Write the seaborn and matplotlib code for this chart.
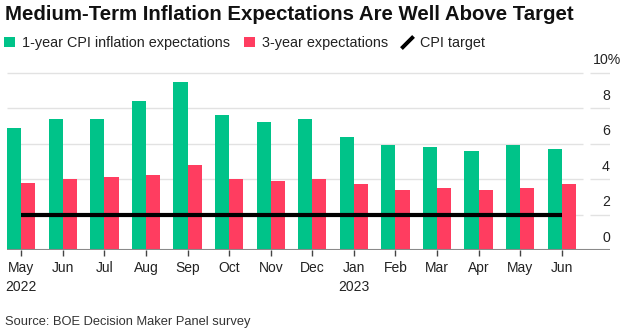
import matplotlib
matplotlib.use("Agg")
import matplotlib.pyplot as plt
import matplotlib.transforms as mtransforms
import seaborn as sns
import pandas as pd
import numpy as np
from matplotlib.lines import Line2D
from matplotlib.patches import Patch

months = ["May\n2022", "Jun", "Jul", "Aug", "Sep", "Oct", "Nov", "Dec",
          "Jan\n2023", "Feb", "Mar", "Apr", "May", "Jun"]
one_year = [6.9, 7.4, 7.4, 8.4, 9.5, 7.6, 7.2, 7.4, 6.4, 5.9, 5.8, 5.6, 5.9, 5.7]
three_year = [3.8, 4.0, 4.1, 4.25, 4.8, 4.0, 3.9, 4.0, 3.7, 3.4, 3.5, 3.4, 3.5, 3.7]
cpi_target = [2.0] * len(months)
y_ticks = [0, 2, 4, 6, 8, 10]

s1 = "1-year CPI inflation expectations"
s2 = "3-year expectations"
green = "#00c389"
red = "#ff3d60"

df = pd.DataFrame({
    "month": list(range(len(months))) * 2,
    "value": one_year + three_year,
    "series": [s1] * len(months) + [s2] * len(months),
})

sns.set_theme(style="white")
plt.rcParams["font.family"] = ["Liberation Sans", "DejaVu Sans"]

fig = plt.figure(figsize=(6.26, 3.33), dpi=100)
ax = fig.add_axes([7 / 626, 83 / 333, 603 / 626, 190 / 333])

sns.barplot(data=df, x="month", y="value", hue="series", palette=[green, red],
            width=0.68, ax=ax, legend=False, edgecolor="none", saturation=1,
            order=list(range(len(months))), zorder=2)

xs = np.arange(len(months))
ax.plot(xs, cpi_target, color="black", lw=3.0, solid_capstyle="butt", zorder=4)

xl, xr = -0.345, 14.16
ax.set_xlim(xl, xr)
ax.set_ylim(0, 10.72)

for v in y_ticks:
    if v == 0:
        continue
    ax.hlines(v, xl, 13.51, color="#e2e2e2", lw=1.0, zorder=1)
    ax.hlines(v, 13.68, xr, color="#e2e2e2", lw=1.0, zorder=1)
ax.axhline(0, color="#8a8a8a", lw=1.5, zorder=5)

trans = mtransforms.blended_transform_factory(ax.transAxes, ax.transData)
for v in y_ticks:
    label = f"{v}%" if v == y_ticks[-1] else str(v)
    dx = 11.5 / 100 if v == y_ticks[-1] else 0
    off = mtransforms.ScaledTranslation(dx, 12.5 / 100, fig.dpi_scale_trans)
    ax.text(1.0, v, label, transform=trans + off, ha="right", va="center",
            fontsize=10.2, color="#222222")

ax.set_yticks([])
ax.set_xticks(xs)
ax.set_xticklabels(months, fontsize=10, color="#222222", linespacing=1.45)
ax.tick_params(axis="x", length=4, width=1, color="#444444", pad=4, bottom=True)
for sp in ax.spines.values():
    sp.set_visible(False)
ax.set_xlabel("")
ax.set_ylabel("")

fig.text(5 / 626, 1 - 15 / 333, "Medium-Term Inflation Expectations Are Well Above Target",
         fontsize=14.7, fontweight="bold", ha="left", va="center", color="#111111")

handles = [Patch(facecolor=green, edgecolor="none"),
           Patch(facecolor=red, edgecolor="none"),
           Line2D([], [], linestyle="none", marker=(2, 2, -45), markersize=12,
                  markeredgewidth=2.6, color="black")]
leg = fig.legend(handles, [s1, s2, "CPI target"], loc="center left",
                 bbox_to_anchor=(0 / 626, 1 - 43 / 333), ncol=3, frameon=False,
                 fontsize=10.35, handlelength=0.75, handleheight=0.75, handletextpad=0.5,
                 columnspacing=0.95, borderaxespad=0, borderpad=0.3)
for t in leg.get_texts():
    t.set_color("#222222")

fig.text(5 / 626, 1 - 322 / 333, "Source: BOE Decision Maker Panel survey",
         fontsize=9.3, ha="left", va="center", color="#333333")

fig.savefig("out.png", dpi=100, facecolor="white")
